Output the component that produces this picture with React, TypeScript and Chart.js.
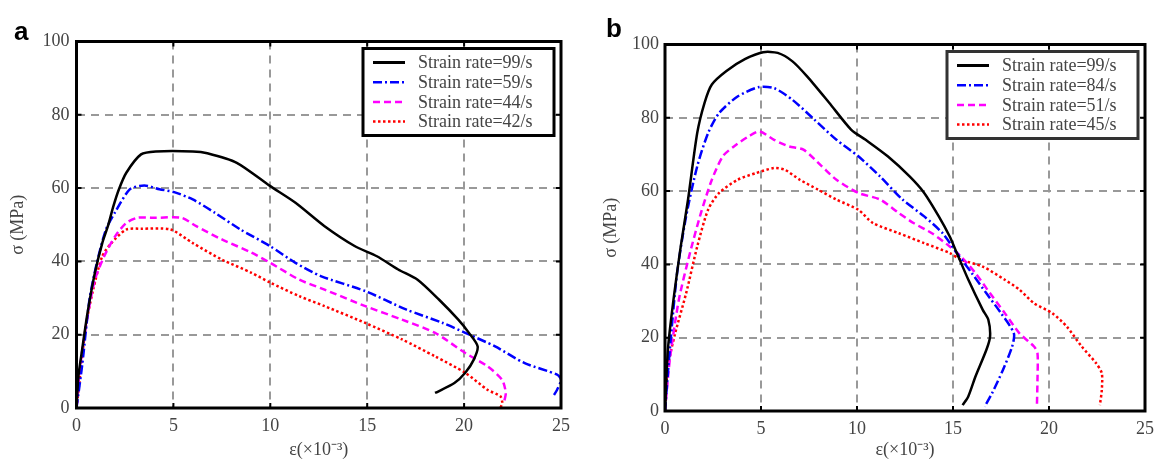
import React, { useEffect, useRef } from "react";
import { Chart, registerables } from "chart.js";
Chart.register(...registerables);

// ---------- shared axis ticks ----------
const xTickValues = [0, 5, 10, 15, 20, 25];
const yTickValues = [0, 20, 40, 60, 80, 100];
const xTitle = "ε(×10⁻³)";
const yTitle = "σ (MPa)";

// ---------- panel a ----------
const aLabels = ["Strain rate=99/s", "Strain rate=59/s", "Strain rate=44/s", "Strain rate=42/s"];
const a99x = [0, 0.1, 0.29, 0.57, 0.95, 1.33, 1.62, 1.9, 2.19, 2.57, 3.33, 4.09, 6.0, 6.75, 8.27, 9.98, 11.3, 12.8, 14.35, 15.5, 16.6, 17.6, 18.7, 19.7, 20.25, 20.7, 20.5, 20.06, 19.5, 18.5];
const a99y = [0, 8.7, 15.9, 26, 36.9, 45, 49.6, 55, 59.7, 64.2, 69.2, 70, 70, 69.5, 66.9, 60.6, 56, 49.6, 44.2, 41.4, 37.8, 35, 29.6, 24.1, 20.5, 16.8, 13.2, 9.6, 6.8, 4.1];
const a59x = [0, 0.3, 0.67, 1.05, 1.52, 1.98, 2.76, 3.5, 4.28, 5.04, 6, 7.13, 8.46, 9.98, 11.3, 12.6, 14.9, 17, 18.9, 20.06, 21.6, 23.1, 24.8, 25, 24.8, 24.6];
const a59y = [0, 12, 29.6, 39.6, 48.7, 53.3, 59.7, 60.7, 59.7, 58.9, 56.9, 53.3, 48.7, 44.2, 39.6, 36, 31.9, 26.9, 23.2, 20.5, 16.8, 12.3, 9.1, 7.7, 5, 3.2];
const a44x = [0, 0.19, 0.57, 0.95, 1.43, 2, 2.57, 3.14, 4.09, 5.42, 6.18, 7.5, 9.03, 10, 11.5, 12.8, 14.9, 16.8, 18.5, 20.06, 21.2, 21.96, 22.15, 22.05];
const a44y = [0, 11.4, 25, 35, 41.4, 46.9, 50.5, 51.9, 51.9, 51.9, 49.6, 46, 42.4, 39.6, 35, 32.3, 27.8, 24.1, 20.5, 15, 11.4, 7.7, 4.1, 1.4];
const a42x = [0, 0.48, 0.86, 1.33, 1.8, 2.57, 3.33, 4.85, 6, 7.5, 9.03, 10, 11.5, 12.8, 14.9, 16.8, 18.5, 20.06, 21.2, 21.87, 21.97, 21.87];
const a42y = [0, 22.3, 32.3, 41.4, 45, 48.7, 48.9, 48.7, 45, 40.5, 36.9, 34.2, 30.5, 27.8, 23.2, 18.7, 14.1, 9.6, 5, 3.2, 1.4, 0];

// ---------- panel b ----------
const bLabels = ["Strain rate=99/s", "Strain rate=84/s", "Strain rate=51/s", "Strain rate=45/s"];
const b99x = [0, 0.15, 0.44, 0.82, 1.2, 1.68, 2.06, 2.44, 3.2, 4.16, 5.11, 5.87, 6.64, 7.4, 8.55, 9.69, 10.45, 11.6, 12.74, 13.5, 14.26, 14.83, 15.2, 15.8, 16.55, 16.84, 16.93, 16.74, 16.17, 15.79, 15.5];
const b99y = [0, 16.7, 30.3, 44.9, 57.7, 75.9, 84.1, 89.1, 92.8, 96, 97.9, 97.7, 95.4, 91.3, 84.1, 76.8, 74, 69.5, 64, 59.5, 53.1, 47.6, 43.1, 35.8, 27.6, 24.9, 20.3, 16.7, 9.4, 3.9, 1.6];
const b84x = [0, 0.25, 0.63, 1.1, 1.68, 2.25, 2.82, 3.78, 4.9, 5.68, 6.64, 7.78, 8.93, 10.07, 11.2, 12.37, 13.5, 14.46, 15.2, 15.98, 16.74, 17.5, 18.17, 18.08, 17.6, 17.03, 16.65];
const b84y = [0, 16.7, 37.6, 53.1, 66.8, 75.9, 81.3, 85.8, 88.4, 88.1, 84.9, 79.5, 74, 69.5, 64, 57.7, 53.1, 48.5, 43.1, 37.6, 32.1, 26.7, 21.2, 17.6, 11.2, 4.8, 1.2];
const b51x = [0, 0.25, 0.72, 1.3, 1.87, 2.44, 3.01, 3.59, 4.35, 4.92, 5.68, 6.45, 7.21, 8.16, 8.93, 10.07, 11.2, 12.18, 12.94, 13.9, 14.83, 15.41, 16.17, 16.93, 17.7, 18.46, 19.22, 19.4, 19.4, 19.37];
const b51y = [0, 13.9, 30.3, 43.1, 54, 63.1, 69.5, 72.2, 74.9, 76.3, 74, 72.2, 71.3, 66.8, 63.1, 59.5, 57.7, 54, 51.3, 48.5, 44.9, 42.2, 37.6, 32.1, 26.7, 21.2, 17.6, 15.8, 8.5, 1.2];
const b45x = [0, 0.15, 0.53, 1.1, 1.68, 2.25, 2.82, 3.78, 4.73, 5.68, 6.25, 7.02, 7.97, 8.92, 10.07, 10.83, 12.18, 13.5, 14.83, 15.41, 16.55, 17.7, 18.46, 19.22, 20.17, 20.93, 21.7, 22.46, 22.75, 22.75, 22.65];
const b45y = [0, 12.1, 21.2, 32.1, 44.9, 55, 59.5, 63.1, 64.9, 66.3, 65.8, 63.1, 60.4, 57.7, 54.9, 51.3, 48.5, 45.8, 43.1, 41.3, 39.4, 35.8, 33.1, 29.4, 26.7, 23, 17.6, 13, 10.3, 5.7, 1.6];

// ---------- styles ----------
const seriesColors = ["#000000", "#0000ff", "#ff00ff", "#ff0000"];
const seriesDash: number[][] = [[], [9, 3, 2, 3], [7, 4], [2.5, 2.5]];

const zip = (xs: number[], ys: number[]) => xs.map((x, i) => ({ x, y: ys[i] }));

type PanelCfg = {
  labels: string[];
  series: [number[], number[]][];
  yAxisWidth: number;
  xAxisHeight: number;
  padTop: number;
  padRight: number;
  yTitlePad: number;
  yTickPad: number;
  legendBorder: string;
};

const framePlugin = {
  id: "frameLegend",
  afterDatasetsDraw(chart: any, _args: any, opts: any) {
    const { ctx, chartArea: ca, scales } = chart;
    ctx.save();
    // inner tick marks on all four sides
    ctx.strokeStyle = "#000";
    ctx.lineWidth = 2;
    ctx.setLineDash([]);
    for (const v of xTickValues) {
      const px = scales.x.getPixelForValue(v);
      ctx.beginPath();
      ctx.moveTo(px, ca.top);
      ctx.lineTo(px, ca.top + 5);
      ctx.moveTo(px, ca.bottom);
      ctx.lineTo(px, ca.bottom - 5);
      ctx.stroke();
    }
    for (const v of yTickValues) {
      const py = scales.y.getPixelForValue(v);
      ctx.beginPath();
      ctx.moveTo(ca.left, py);
      ctx.lineTo(ca.left + 5, py);
      ctx.moveTo(ca.right, py);
      ctx.lineTo(ca.right - 5, py);
      ctx.stroke();
    }
    // frame
    ctx.lineWidth = 3;
    ctx.strokeRect(ca.left, ca.top, ca.right - ca.left, ca.bottom - ca.top);

    // legend
    const labels: string[] = opts.labels;
    const bw = 191;
    const bh = 87;
    const bx = ca.right - 7 - bw;
    const by = ca.top + 7;
    ctx.fillStyle = "#fff";
    ctx.fillRect(bx, by, bw, bh);
    ctx.strokeStyle = opts.border;
    ctx.lineWidth = 3;
    ctx.strokeRect(bx, by, bw, bh);
    ctx.font = "18px 'Liberation Serif', serif";
    ctx.textBaseline = "middle";
    ctx.textAlign = "left";
    labels.forEach((lab, i) => {
      const y = by + 14 + i * 19.7;
      ctx.beginPath();
      ctx.strokeStyle = seriesColors[i];
      ctx.lineWidth = i === 0 ? 3 : 2.5;
      ctx.setLineDash(seriesDash[i]);
      ctx.moveTo(bx + 10, y);
      ctx.lineTo(bx + 42, y);
      ctx.stroke();
      ctx.setLineDash([]);
      ctx.fillStyle = "#444";
      ctx.fillText(lab, bx + 55, y + 1);
    });
    ctx.restore();
  },
};

function Panel({ cfg, width }: { cfg: PanelCfg; width: number }) {
  const ref = useRef<HTMLCanvasElement | null>(null);
  useEffect(() => {
    if (!ref.current) return;
    const tickFont = { family: "'Liberation Serif', serif", size: 18 };
    const chart = new Chart(ref.current, {
      type: "line",
      data: {
        datasets: cfg.series.map(([xs, ys], i) => ({
          label: cfg.labels[i],
          data: zip(xs, ys),
          borderColor: seriesColors[i],
          borderWidth: i === 0 ? 2.5 : 2.5,
          borderDash: seriesDash[i],
          pointRadius: 0,
          tension: 0.25,
          fill: false,
        })),
      },
      options: {
        animation: false,
        responsive: false,
        layout: { padding: { top: cfg.padTop, right: cfg.padRight, left: 0, bottom: 0 } },
        plugins: {
          legend: { display: false },
          tooltip: { enabled: false },
          frameLegend: { labels: cfg.labels, border: cfg.legendBorder },
        } as any,
        scales: {
          x: {
            type: "linear",
            min: 0,
            max: 25,
            afterBuildTicks: (s: any) => {
              s.ticks = xTickValues.map((v) => ({ value: v }));
            },
            afterFit: (s: any) => {
              s.height = cfg.xAxisHeight;
            },
            ticks: { font: tickFont, color: "#444", padding: 7, maxRotation: 0 },
            grid: { color: "#999", lineWidth: 2, drawTicks: false },
            border: { display: false, dash: [8, 6] },
            title: {
              display: true,
              text: xTitle,
              font: { family: "'Liberation Serif', serif", size: 18 },
              color: "#444",
              padding: { top: 0, bottom: 0 },
            },
          },
          y: {
            type: "linear",
            min: 0,
            max: 100,
            afterBuildTicks: (s: any) => {
              s.ticks = yTickValues.map((v) => ({ value: v }));
            },
            afterFit: (s: any) => {
              s.width = cfg.yAxisWidth;
            },
            ticks: { font: tickFont, color: "#444", padding: cfg.yTickPad },
            grid: { color: "#999", lineWidth: 2, drawTicks: false },
            border: { display: false, dash: [8, 6] },
            title: {
              display: true,
              text: yTitle,
              font: { family: "'Liberation Serif', serif", size: 18 },
              color: "#444",
              padding: { top: cfg.yTitlePad, bottom: 0 },
            },
          },
        },
      } as any,
      plugins: [framePlugin],
    });
    return () => chart.destroy();
  }, []);
  return <canvas ref={ref} width={width} height={461} style={{ width, height: 461, display: "block" }} />;
}

const panelA: PanelCfg = {
  labels: aLabels,
  series: [[a99x, a99y], [a59x, a59y], [a44x, a44y], [a42x, a42y]],
  yAxisWidth: 76.5,
  xAxisHeight: 53,
  padTop: 41.5,
  padRight: 19,
  yTitlePad: 7,
  yTickPad: 7,
  legendBorder: "#000",
};

const panelB: PanelCfg = {
  labels: bLabels,
  series: [[b99x, b99y], [b84x, b84y], [b51x, b51y], [b45x, b45y]],
  yAxisWidth: 85,
  xAxisHeight: 50,
  padTop: 44.5,
  padRight: 10,
  yTitlePad: 20,
  yTickPad: 6,
  legendBorder: "#333",
};

export default function App() {
  const labelStyle: React.CSSProperties = {
    position: "absolute",
    fontFamily: "'Liberation Sans', Arial, sans-serif",
    fontWeight: "bold",
    fontSize: 26,
    lineHeight: "26px",
    color: "#000",
  };
  return (
    <div style={{ position: "fixed", left: 0, top: 0, width: 1161, height: 461, background: "#fff", overflow: "hidden" }}>
      <div style={{ position: "absolute", left: 0, top: 0 }}>
        <Panel cfg={panelA} width={580} />
      </div>
      <div style={{ position: "absolute", left: 580, top: 0 }}>
        <Panel cfg={panelB} width={581} />
      </div>
      <div style={{ ...labelStyle, left: 14, top: 18 }}>a</div>
      <div style={{ ...labelStyle, left: 606, top: 15 }}>b</div>
    </div>
  );
}
